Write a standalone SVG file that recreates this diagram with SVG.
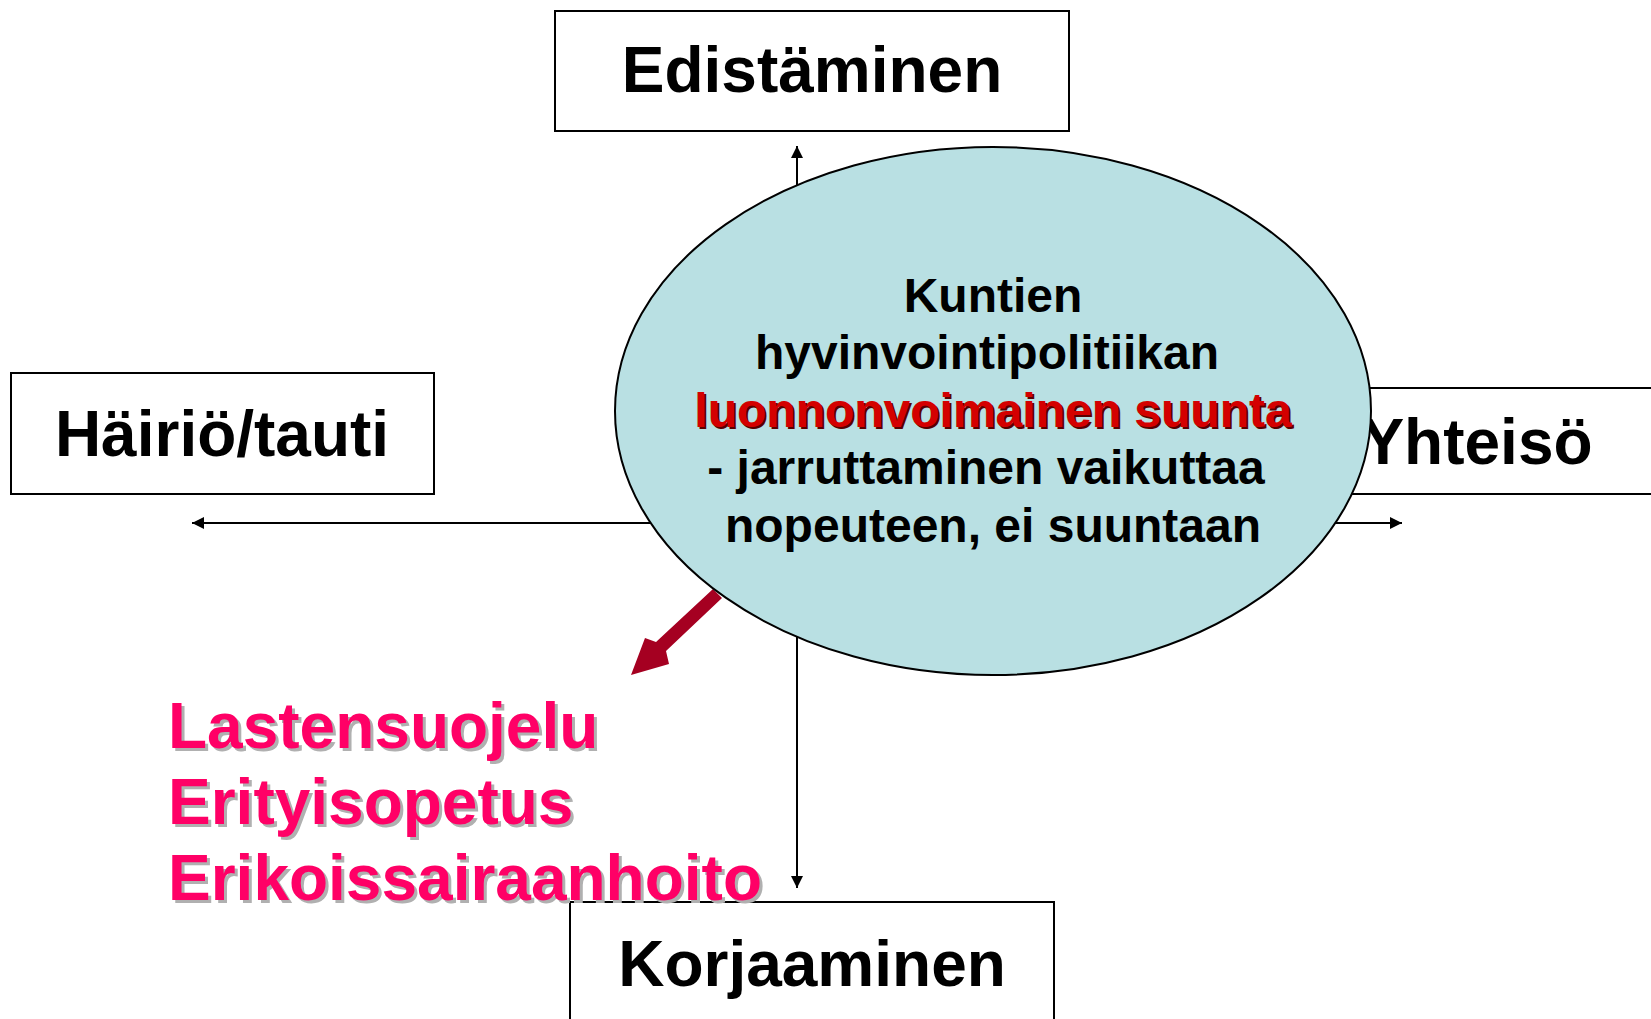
<svg xmlns="http://www.w3.org/2000/svg" width="1651" height="1019" viewBox="0 0 1651 1019">
<defs>
<style>
.box{fill:#fff;stroke:#000;stroke-width:2}
.lbl{font-family:"Liberation Sans",Arial,sans-serif;font-weight:bold;font-size:64px;fill:#000;text-anchor:middle}
.etx{font-family:"Liberation Sans",Arial,sans-serif;font-weight:bold;font-size:48px;fill:#000;text-anchor:middle}
.red{fill:#D40000}
.redsh{fill:#5a0000}
.mag{font-family:"Liberation Sans",Arial,sans-serif;font-weight:bold;font-size:64px;fill:#FF0066}
.magsh{font-family:"Liberation Sans",Arial,sans-serif;font-weight:bold;font-size:64px;fill:#B0B0B0}
.conn{stroke:#000;stroke-width:2;fill:none}
</style>
<marker id="ah" viewBox="0 0 10 10" refX="10" refY="5" markerWidth="6" markerHeight="6" orient="auto" markerUnits="strokeWidth">
<path d="M0,0 L10,5 L0,10 z" fill="#000"/>
</marker>
</defs>
<rect width="1651" height="1019" fill="#fff"/>
<g id="node-edistaminen">
<rect class="box" x="555" y="11" width="514" height="120"/>
<text class="lbl" x="812" y="92">Edistäminen</text>
</g>
<g id="node-hairio">
<rect class="box" x="11" y="373" width="423" height="121"/>
<text class="lbl" x="222" y="456">Häiriö/tauti</text>
</g>
<g id="node-yhteiso">
<rect class="box" x="1265" y="388" width="430" height="106"/>
<text class="lbl" x="1477" y="464">Yhteisö</text>
</g>
<g id="node-korjaaminen">
<rect class="box" x="570" y="902" width="484" height="130"/>
<text class="lbl" x="812" y="986">Korjaaminen</text>
</g>
<g id="connectors">
<line class="conn" x1="797" y1="190" x2="797" y2="146" marker-end="url(#ah)"/>
<line class="conn" x1="660" y1="523" x2="192" y2="523" marker-end="url(#ah)"/>
<line class="conn" x1="1330" y1="523" x2="1402" y2="523" marker-end="url(#ah)"/>
<line class="conn" x1="797" y1="630" x2="797" y2="888" marker-end="url(#ah)"/>
<polygon fill="#A50021" points="713,589 722,598 666,651 669,664 631,675 645,638 656,642"/>
</g>
<g id="node-center">
<ellipse cx="993" cy="411" rx="378" ry="264" fill="#B9E0E3" stroke="#000" stroke-width="2"/>
<text class="etx" x="993" y="312">Kuntien</text>
<text class="etx" x="987" y="369">hyvinvointipolitiikan</text>
<text class="etx redsh" x="995" y="429">luonnonvoimainen suunta</text>
<text class="etx red" x="993" y="427">luonnonvoimainen suunta</text>
<text class="etx" x="986" y="484">- jarruttaminen vaikuttaa</text>
<text class="etx" x="993" y="542">nopeuteen, ei suuntaan</text>
</g>
<g id="node-list">
<text class="magsh" x="171" y="751">Lastensuojelu</text>
<text class="mag" x="168" y="748">Lastensuojelu</text>
<text class="magsh" x="171" y="827">Erityisopetus</text>
<text class="mag" x="168" y="824">Erityisopetus</text>
<text class="magsh" x="171" y="903">Erikoissairaanhoito</text>
<text class="mag" x="168" y="900">Erikoissairaanhoito</text>
</g>
</svg>
